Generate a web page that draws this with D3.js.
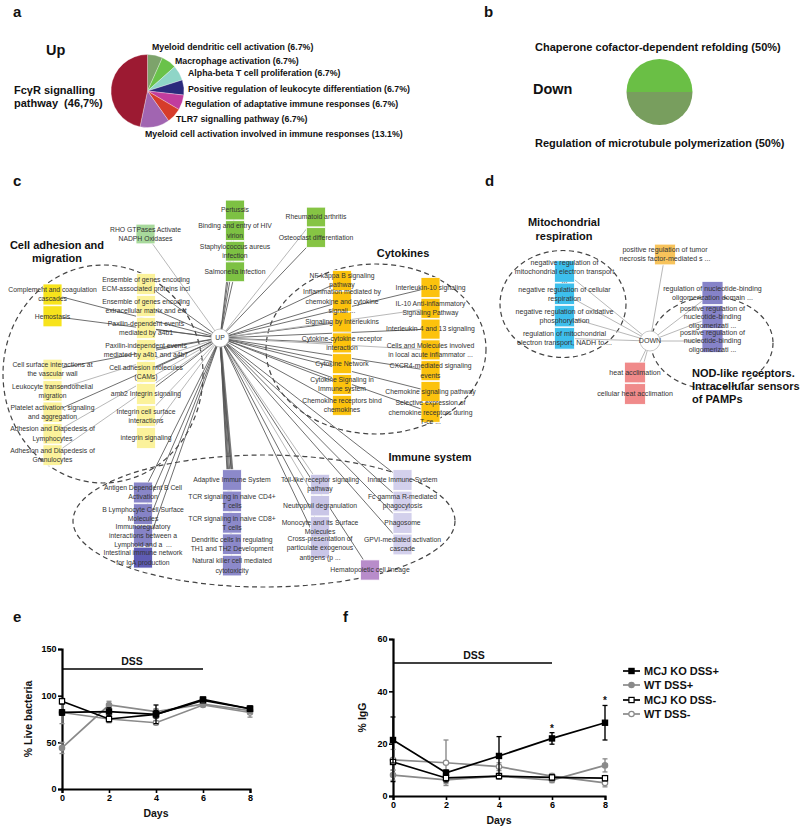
<!DOCTYPE html>
<html><head><meta charset="utf-8">
<script src="https://cdnjs.cloudflare.com/ajax/libs/d3/7.8.5/d3.min.js"></script>
<style>body{margin:0;background:#fff} svg{display:block} text{font-family:Arial,"Liberation Sans",sans-serif}</style>
</head><body><script>
// ---------- DATA ----------
// Panel a (Up) pie
const upCategories = ["Myeloid dendritic cell activation","Macrophage activation","Alpha-beta T cell proliferation","Positive regulation of leukocyte differentiation","Regulation of adaptative immune responses","TLR7 signalling pathway","Myeloid cell activation involved in immune responses","FcγR signalling pathway"];
const upValues = [6.7,6.7,6.7,6.7,6.7,6.7,13.1,46.7];
const upLabels = ["Myeloid dendritic cell activation (6.7%)","Macrophage activation (6.7%)","Alpha-beta T cell proliferation (6.7%)","Positive regulation of leukocyte differentiation (6.7%)","Regulation of adaptative immune responses (6.7%)","TLR7 signalling pathway (6.7%)","Myeloid cell activation involved in immune responses (13.1%)"];
// Panel b (Down) pie
const downCategories = ["Chaperone cofactor-dependent refolding","Regulation of microtubule polymerization"];
const downValues = [50,50];
// Panel c network (UP)
const cGreen = ["Pertussis","Binding and entry of HIV|virion","Staphylococcus aureus|infection","Salmonella infection"];
const cGreen2 = ["Rheumatoid arthritis","Osteoclast differentiation"];
const cRho = ["RHO GTPases Activate|NADPH Oxidases"];
const cYellowBright = ["Complement and coagulation|cascades","Hemostasis"];
const cYellowLeft = ["Cell surface interactions at|the vascular wall","Leukocyte transendothelial|migration","Platelet activation, signaling|and aggregation","Adhesion and Diapedesis of|Lymphocytes","Adhesion and Diapedesis of|Granulocytes"];
const cYellowMid = ["Ensemble of genes encoding|ECM-associated proteins incl","Ensemble of genes encoding|extracellular matrix and ext","Paxilin-dependent events|mediated by a4b1","Paxilin-independent events|mediated by a4b1 and a4b7","Cell adhesion molecules|(CAMs)","amb2 Integrin signaling","Integrin cell surface|interactions","integrin signaling"];
const cGoldLeft = ["NF-kappa B signaling|pathway","Inflammation mediated by|chemokine and cytokine|signali ...","Signaling by Interleukins","Cytokine-cytokine receptor|interaction","Cytokine Network","Cytokine Signaling in|Immune system","Chemokine receptors bind|chemokines"];
const cGoldRight = ["Interleukin-10 signaling","IL-10 Anti-inflammatory|Signaling Pathway","Interleukin-4 and 13 signaling","Cells and Molecules involved|in local acute inflammator ...","CXCR4-mediated signaling|events","Chemokine signaling pathway","Selective expression of|chemokine receptors during|T-ce ..."];
const cPurple1 = ["Antigen Dependent B Cell|Activation","B Lymphocyte Cell Surface|Molecules","Immunoregulatory|interactions between a|Lymphoid and a  ...","Intestinal immune network|for IgA production"];
const cPurple2 = ["Adaptive Immune System","TCR signaling in naive CD4+|T cells","TCR signaling in naive CD8+|T cells","Dendritic cells in regulating|TH1 and TH2 Development","Natural killer cell mediated|cytotoxicity"];
const cPurple3 = ["Toll-like receptor signaling|pathway","Neutrophil degranulation","Monocyte and its Surface|Molecules","Cross-presentation of|particulate exogenous|antigens (p ..."];
const cPurple4 = ["Innate Immune System","Fc gamma R-mediated|phagocytosis","Phagosome","GPVI-mediated activation|cascade"];
const cHemato = ["Hematopoietic cell lineage"];
const cLightEdges = ["RHO GTPases Activate|NADPH Oxidases","Leukocyte transendothelial|migration","Adhesion and Diapedesis of|Granulocytes","Adhesion and Diapedesis of|Lymphocytes","Rheumatoid arthritis","Integrin cell surface|interactions","integrin signaling","IL-10 Anti-inflammatory|Signaling Pathway","Neutrophil degranulation","Toll-like receptor signaling|pathway","Cells and Molecules involved|in local acute inflammator ..."];
const cClusters = ["Cell adhesion and|migration","Cytokines","Immune system"];
// Panel d network (DOWN)
const dBlue = ["negative regulation of|mitochondrial electron transport|...","negative regulation of cellular|respiration","negative regulation of oxidative|phosphorylation","regulation of mitochondrial|electron transport, NADH to ..."];
const dOrange = ["positive regulation of tumor|necrosis factor-mediated s ..."];
const dPurple = ["regulation of nucleotide-binding|oligomerization domain ...","positive regulation of|nucleotide-binding|oligomerizati ...","positive regulation of|nucleotide-binding|oligomerizati ..."];
const dPink = ["heat acclimation","cellular heat acclimation"];
const dClusters = ["Mitochondrial|respiration","NOD-like receptors.|Intracellular sensors|of PAMPs"];
// Panels e, f
const days = [0,2,4,6,8];
const seriesNames = ["MCJ KO DSS+","WT DSS+","MCJ KO DSS-","WT DSS-"];
const eKoDssPlus  = [82,83,80,96,86];  const eKoDssPlusErr  = [3,4,10,2,3];
const eWtDssPlus  = [44,90,83,91,84];  const eWtDssPlusErr  = [6,4,3,2,3];
const eKoDssMinus = [94,75,80,95,86];  const eKoDssMinusErr = [3,3,4,2,2];
const eWtDssMinus = [82,75,71,90,82];  const eWtDssMinusErr = [12,4,2,2,5];
const fKoDssPlus  = [21.4,8.9,15.3,22,28];   const fKoDssPlusErr  = [8.8,1,7.4,2.2,6.6];
const fWtDssPlus  = [8,6.2,7.6,6.1,11.7];    const fWtDssPlusErr  = [2,1.5,1,1,2.5];
const fKoDssMinus = [13,6.9,7.6,7.1,6.8];    const fKoDssMinusErr = [7.5,1.5,1,1,1];
const fWtDssMinus = [13.8,12.7,11.2,7.6,5];  const fWtDssMinusErr = [4,8.7,1.5,1,1.5];
const fSignificantDays = [6,8];
const eYTicks = [0,50,100,150];
const fYTicks = [0,20,40,60];

// ---------- DRAW ----------
const svg = d3.select("body").append("svg").attr("width",800).attr("height",831);
const bold = (s)=>s.attr("font-weight","bold").attr("fill","#111");

function panelLabel(t,x,y){ svg.append("text").text(t).attr("x",x).attr("y",y).attr("font-size",15).call(bold); }
panelLabel("a",13,17); panelLabel("b",484,17); panelLabel("c",13,186); panelLabel("d",485,186);
panelLabel("e",13,622); panelLabel("f",343,622);

// Panel a
const upColors = ["#7da36b","#6ac24a","#8fd5c7","#2b2a7c","#c13c9d","#d63c2b","#a165b1","#9c1a32"];
const pieA = d3.pie().sort(null).value(d=>d)(upValues);
const arcA = d3.arc().innerRadius(0).outerRadius(36.5);
svg.append("g").attr("transform","translate(147.5,91)").selectAll("path").data(pieA).join("path")
  .attr("d",arcA).attr("fill",(d,i)=>upColors[i]).attr("stroke","#fff").attr("stroke-width",0.3);
svg.append("text").text("Up").attr("x",46).attr("y",55).attr("font-size",14.5).call(bold);
svg.append("text").attr("x",14).attr("y",94).attr("font-size",11).call(bold).text("FcγR signalling");
svg.append("text").attr("x",14).attr("y",107).attr("font-size",11).call(bold).attr("xml:space","preserve").text("pathway  (46,7%)");
const aLabelPos = [[152,47],[175,61],[188,72.5],[188,89],[185,104],[176,119],[145,134]];
svg.append("g").selectAll("text").data(upLabels).join("text")
  .attr("x",(d,i)=>aLabelPos[i][0]).attr("y",(d,i)=>aLabelPos[i][1]).attr("dy","0.35em")
  .attr("font-size",8.8).call(bold).text(d=>d);

// Panel b
const downColors = ["#6abf45","#789e5e"];
const pieB = d3.pie().sort(null).startAngle(-Math.PI/2).endAngle(1.5*Math.PI).value(d=>d)(downValues);
const arcB = d3.arc().innerRadius(0).outerRadius(33);
svg.append("g").attr("transform","translate(659.5,92)").selectAll("path").data(pieB).join("path")
  .attr("d",arcB).attr("fill",(d,i)=>downColors[i]);
svg.append("text").text("Down").attr("x",533).attr("y",94).attr("font-size",14.5).call(bold);
svg.append("text").text(downCategories[0]+" (50%)").attr("x",535).attr("y",51).attr("font-size",11).call(bold);
svg.append("text").text(downCategories[1]+" (50%)").attr("x",535).attr("y",147).attr("font-size",11).call(bold);

// Network helper
function drawNetwork(hub, columns, lightSet, fontSize, lineH, ellipses, titles, titleSize){
  const g = svg.append("g");
  const nodes = [];
  columns.forEach(col => col.nodes.forEach((lab,i)=>{
    nodes.push({lab, x:col.x, y:col.y0+i*col.step, fill: (col.fills? col.fills[i] : col.fill), w:col.w||19, h:col.h||(col.step? col.step-0.8:20), bw: col.bw||1, lh: col.lh||lineH});
  }));
  g.selectAll("ellipse").data(ellipses).join("ellipse")
    .attr("cx",d=>d.cx).attr("cy",d=>d.cy).attr("rx",d=>d.rx).attr("ry",d=>d.ry)
    .attr("fill","none").attr("stroke","#444").attr("stroke-width",1.2).attr("stroke-dasharray","5,3.5");
  g.selectAll("line.edge").data(nodes).join("line").attr("class","edge")
    .attr("x1",hub.x).attr("y1",hub.y).attr("x2",d=>d.x).attr("y2",d=>d.y)
    .attr("stroke",d=>lightSet.includes(d.lab)?"#b0b0b0":"#555")
    .attr("stroke-width",d=>d.bw*(lightSet.includes(d.lab)?0.9:0.85));
  g.selectAll("rect").data(nodes).join("rect")
    .attr("x",d=>d.x-d.w/2).attr("y",d=>d.y-d.h/2).attr("width",d=>d.w).attr("height",d=>d.h)
    .attr("fill",d=>d.fill).attr("stroke","#fff").attr("stroke-width",0.8);
  g.append("circle").attr("cx",hub.x).attr("cy",hub.y).attr("r",hub.r).attr("fill","#fff").attr("stroke","#bbb").attr("stroke-width",0.8);
  g.append("text").text(hub.label).attr("x",hub.x).attr("y",hub.y).attr("dy","0.35em").attr("text-anchor","middle").attr("font-size",fontSize).attr("fill","#333");
  const lt = g.selectAll("text.lab").data(nodes).join("text").attr("class","lab")
    .attr("text-anchor","middle").attr("font-size",fontSize).attr("fill","#333");
  lt.each(function(d){
    const lines = d.lab.split("|");
    const y0 = d.y - (lines.length-1)*d.lh/2;
    d3.select(this).selectAll("tspan").data(lines).join("tspan")
      .attr("x",d.x).attr("y",(l,i)=>y0+i*d.lh).attr("dy","0.35em").attr("xml:space","preserve").text(l=>l);
  });
  titles.forEach(t=>{
    const lines = t.text.split("|");
    const tx = g.append("text").attr("font-size",titleSize).attr("text-anchor",t.anchor||"middle").call(bold);
    lines.forEach((l,i)=>tx.append("tspan").attr("x",t.x).attr("y",t.y+i*t.lh).attr("dy","0.35em").text(l));
  });
}

// Panel c
drawNetwork({x:220,y:338,r:9,label:"UP"}, [
  {nodes:cGreen, x:235, y0:210, step:20.6, fill:"#7dc143"},
  {nodes:cGreen2, x:316, y0:217, step:20.5, fill:"#86c444"},
  {nodes:cRho, x:145.5, y0:234, step:20.5, fill:"#a8d99c"},
  {nodes:cYellowBright, x:52.5, y0:294.5, step:21.8, fill:"#f7e31c"},
  {nodes:cYellowLeft, x:52.5, y0:369.5, step:21.4, fill:"#fbf29b"},
  {nodes:cYellowMid, x:146, y0:284, step:22.0, fill:"#fbf29b"},
  {nodes:cGoldLeft, x:342, y0:280.5, step:20.8, fill:"#fcc20d"},
  {nodes:cGoldRight, x:430.5, y0:287.5, step:20.8, fill:"#fcc20d"},
  {nodes:cPurple1, x:143, y0:492.5, step:21.7, fills:["#8986c8","#8683c6","#8683c6","#5f5cb4"]},
  {nodes:cPurple2, x:232, y0:480, step:21.4, fill:"#8c89ca", },
  {nodes:cPurple3, x:320, y0:484.5, step:21.2, fill:"#c9c6e7"},
  {nodes:cPurple4, x:402.5, y0:480, step:21.5, fill:"#d3d0ec"},
  {nodes:cHemato, x:370, y0:570, step:21, fill:"#b88cca"}
], cLightEdges, 6.8, 9.2,
 [{cx:103,cy:374,rx:100,ry:109},{cx:376,cy:349,rx:110,ry:85},{cx:264,cy:521,rx:191,ry:66}],
 [{text:cClusters[0],x:57,y:245,lh:13.5},{text:cClusters[1],x:403,y:253,lh:13},{text:cClusters[2],x:430,y:457,lh:13}], 11);

// thicker bundle to Adaptive Immune System
svg.append("line").attr("x1",220).attr("y1",338).attr("x2",232).attr("y2",470).attr("stroke","#777").attr("stroke-width",2.6).lower();

// Panel d
drawNetwork({x:650,y:341,r:10,label:"DOWN"}, [
  {nodes:dBlue, x:564.5, y0:271.5, step:22.3, fill:"#3ebfec", w:20},
  {nodes:dOrange, x:665, y0:254.5, step:21.5, fill:"#f7c35b", w:21},
  {nodes:dPurple, x:712.5, y0:293, step:24, fill:"#8683c8", w:21, lh:8.3},
  {nodes:dPink, x:635, y0:372.5, step:21.5, fill:"#f08a8a", w:21}
], dBlue.concat(dOrange,dPurple,dPink), 7.1, 9,
 [{cx:563,cy:304,rx:63,ry:53.5},{cx:712,cy:343,rx:61,ry:46}],
 [{text:dClusters[0],x:564,y:222,lh:14},{text:dClusters[1],x:692,y:373.5,lh:12.6,anchor:"start"}], 11);

// ---------- Line charts ----------
function lineChart(opt){
  const g = svg.append("g");
  const x = d3.scaleLinear().domain([0,8]).range([opt.x0,opt.x1]);
  const y = d3.scaleLinear().domain([0,opt.ymax]).range([opt.y0,opt.y1]);
  const ax = g.append("g").attr("transform",`translate(0,${opt.y0})`).call(d3.axisBottom(x).tickValues(days).tickSize(4).tickPadding(2));
  const ay = g.append("g").attr("transform",`translate(${opt.x0},0)`).call(d3.axisLeft(y).tickValues(opt.yticks).tickSize(4).tickPadding(1.5));
  [ax,ay].forEach(a=>{ a.select(".domain").attr("stroke","#000").attr("stroke-width",2.2);
    a.selectAll(".tick line").attr("stroke","#000").attr("stroke-width",1.6);
    a.selectAll("text").attr("font-size",9).attr("font-weight","bold").attr("fill","#000").attr("font-family",'Arial,"Liberation Sans",sans-serif'); });
  // DSS bar
  g.append("line").attr("x1",x(0)).attr("x2",x(6)).attr("y1",opt.dssY).attr("y2",opt.dssY).attr("stroke","#000").attr("stroke-width",1.6);
  g.append("text").text("DSS").attr("x",opt.dssX).attr("y",opt.dssY-4).attr("text-anchor","middle").attr("font-size",10.5).call(bold);
  g.append("text").text("Days").attr("x",(x(0)+x(8))/2).attr("y",opt.y0+28).attr("text-anchor","middle").attr("font-size",10.5).call(bold);
  g.append("text").text(opt.ytitle).attr("transform",`translate(${opt.ytx},${(opt.y0+opt.y1)/2}) rotate(-90)`).attr("text-anchor","middle").attr("font-size",10.5).call(bold);
  const styles = [{c:"#000",fill:"#000",sq:true},{c:"#8a8a8a",fill:"#8a8a8a",sq:false},{c:"#000",fill:"#fff",sq:true},{c:"#8a8a8a",fill:"#fff",sq:false}];
  const order = [3,1,2,0];
  order.forEach(si=>{
    const vals = opt.series[si], errs = opt.errs[si], st = styles[si];
    const sg = g.append("g");
    sg.selectAll("line.err").data(days).join("line").attr("x1",d=>x(d)).attr("x2",d=>x(d))
      .attr("y1",(d,i)=>y(vals[i]-errs[i])).attr("y2",(d,i)=>y(vals[i]+errs[i])).attr("stroke",st.c).attr("stroke-width",1.4);
    [-1,1].forEach(s=> sg.selectAll("line.cap"+s).data(days).join("line").attr("x1",d=>x(d)-2.5).attr("x2",d=>x(d)+2.5)
      .attr("y1",(d,i)=>y(vals[i]+s*errs[i])).attr("y2",(d,i)=>y(vals[i]+s*errs[i])).attr("stroke",st.c).attr("stroke-width",1.3));
    sg.append("path").attr("d",d3.line().x(d=>x(d)).y((d,i)=>y(vals[i]))(days)).attr("fill","none").attr("stroke",st.c).attr("stroke-width",1.7);
    if(st.sq) sg.selectAll("rect").data(days).join("rect").attr("x",d=>x(d)-2.6).attr("y",(d,i)=>y(vals[i])-2.6).attr("width",5.2).attr("height",5.2).attr("fill",st.fill).attr("stroke",st.c).attr("stroke-width",1.2);
    else sg.selectAll("circle").data(days).join("circle").attr("cx",d=>x(d)).attr("cy",(d,i)=>y(vals[i])).attr("r",2.7).attr("fill",st.fill).attr("stroke",st.c).attr("stroke-width",1.2);
  });
  return {g,x,y,styles};
}
lineChart({x0:62,x1:250,y0:789,y1:649,ymax:150,yticks:eYTicks,dssY:669,dssX:132,ytitle:"% Live bacteria",ytx:32,
  series:[eKoDssPlus,eWtDssPlus,eKoDssMinus,eWtDssMinus], errs:[eKoDssPlusErr,eWtDssPlusErr,eKoDssMinusErr,eWtDssMinusErr]});
const F = lineChart({x0:393,x1:605,y0:796,y1:639,ymax:60,yticks:fYTicks,dssY:663,dssX:474,ytitle:"% IgG",ytx:366,
  series:[fKoDssPlus,fWtDssPlus,fKoDssMinus,fWtDssMinus], errs:[fKoDssPlusErr,fWtDssPlusErr,fKoDssMinusErr,fWtDssMinusErr]});
// asterisks
F.g.selectAll("text.ast").data(fSignificantDays).join("text").attr("class","ast").text("*")
  .attr("x",d=>F.x(d)).attr("y",d=>{const i=days.indexOf(d); return F.y(fKoDssPlus[i]+fKoDssPlusErr[i])-1;})
  .attr("text-anchor","middle").attr("font-size",10).call(bold);
// legend
const lg = svg.append("g");
const legY = [671,685,700,714];
seriesNames.forEach((n,i)=>{
  const st = F.styles[i];
  lg.append("line").attr("x1",623).attr("x2",640).attr("y1",legY[i]).attr("y2",legY[i]).attr("stroke",st.c).attr("stroke-width",1.7);
  if(st.sq) lg.append("rect").attr("x",628.9).attr("y",legY[i]-2.6).attr("width",5.2).attr("height",5.2).attr("fill",st.fill).attr("stroke",st.c).attr("stroke-width",1.2);
  else lg.append("circle").attr("cx",631.5).attr("cy",legY[i]).attr("r",2.7).attr("fill",st.fill).attr("stroke",st.c).attr("stroke-width",1.2);
  lg.append("text").text(n).attr("x",644).attr("y",legY[i]).attr("dy","0.36em").attr("font-size",11).call(bold);
});
</script></body></html>
